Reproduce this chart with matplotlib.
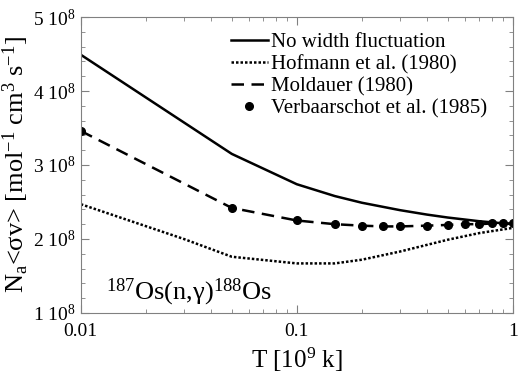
import matplotlib.pyplot as plt
from matplotlib.ticker import FixedLocator, MultipleLocator, NullFormatter

plt.rcParams['font.family'] = ['Liberation Serif', 'DejaVu Serif']
plt.rcParams['mathtext.fontset'] = 'custom'
plt.rcParams['mathtext.rm'] = 'Liberation Serif'
plt.rcParams['mathtext.it'] = 'Liberation Serif:italic'

# --- data (values in units of 1e8) ---
T_solid = [0.01, 0.05, 0.1, 0.15, 0.2, 0.3, 0.4, 0.5, 0.7, 1.0]
rate_solid = [4.49, 3.15, 2.74, 2.58, 2.49, 2.39, 2.33, 2.29, 2.24, 2.20]

T_dotted = [0.01, 0.03, 0.05, 0.1, 0.15, 0.2, 0.3, 0.5, 0.7, 1.0]
rate_dotted = [2.47, 2.00, 1.76, 1.67, 1.67, 1.72, 1.83, 1.99, 2.08, 2.15]

T_dashed = [0.01, 0.05, 0.1, 0.15, 0.2, 0.25, 0.3, 0.4, 0.5, 0.6, 0.7, 0.8, 0.9, 1.0]
rate_dashed = [3.46, 2.42, 2.25, 2.20, 2.18, 2.17, 2.17, 2.18, 2.19, 2.20, 2.20, 2.21, 2.21, 2.21]

T_dots = T_dashed
rate_dots = rate_dashed

ytick_vals = [1, 2, 3, 4, 5]
ytick_labels = [r'%d 10$^{8}$' % v for v in ytick_vals]

fig = plt.figure(figsize=(5.18, 3.78), dpi=100)
ax = fig.add_axes([0.156, 0.172, 0.834, 0.783])

ax.plot(T_solid, rate_solid, color='black', lw=1.8, label='No width fluctuation')
ax.plot(T_dotted, rate_dotted, color='black', lw=1.8, ls=(0, (1, 0.8)), label='Hofmann et al. (1980)')
ax.plot(T_dashed, rate_dashed, color='black', lw=1.8, ls=(0, (5, 3)), label='Moldauer (1980)')
ax.plot(T_dots, rate_dots, 'o', color='black', ms=5.5, label='Verbaarschot et al. (1985)')

ax.set_xscale('log')
ax.set_xlim(0.01, 1)
ax.set_ylim(1, 5)
ax.set_xticks([0.01, 0.1, 1])
ax.set_xticklabels(['0.01', '0.1', '1'])
ax.xaxis.set_minor_formatter(NullFormatter())
ax.yaxis.set_major_locator(FixedLocator(ytick_vals))
ax.set_yticklabels(ytick_labels)
ax.yaxis.set_minor_locator(MultipleLocator(0.2))

ax.tick_params(which='both', direction='in', top=True, right=True, colors='#808080',
               labelcolor='black', labelsize=14)
ax.tick_params(which='major', length=6)
ax.tick_params(which='minor', length=3)
ax.tick_params(axis='x', pad=7)
for s in ax.spines.values():
    s.set_color('#808080')

ax.set_xlabel(r'T [10$^{9}$ k]', fontsize=18)
ax.set_ylabel(r'N$_{\rm a}$<σv> [mol$^{-1}$ cm$^{3}$ s$^{-1}$]', fontsize=19, labelpad=2)

ax.text(0.058, 0.045, r'$^{187}$Os(n,γ)$^{188}$Os', transform=ax.transAxes, fontsize=19)

ax.legend(loc='upper right', frameon=False, fontsize=15, handlelength=1.8,
          handletextpad=0.15, labelspacing=0.12, borderaxespad=0.2, bbox_to_anchor=(0.97, 0.99))

fig.savefig('out.png', dpi=100)
